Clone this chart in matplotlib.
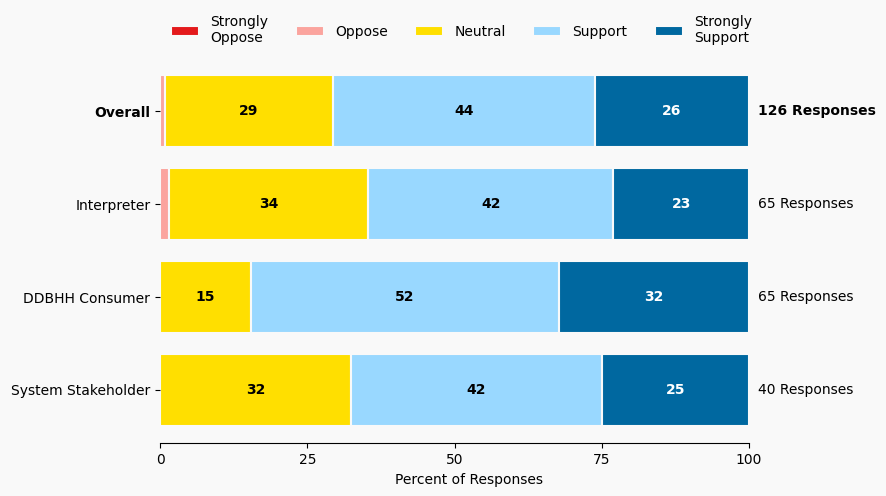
import matplotlib
matplotlib.use('Agg')
from matplotlib import pyplot as plt
import numpy as np

groups = ['Overall', 'Interpreter', 'DDBHH Consumer', 'System Stakeholder']
responses = [126, 65, 65, 40]
levels = ['Strongly\nOppose', 'Oppose', 'Neutral', 'Support', 'Strongly\nSupport']
colors = ['#e41a1c', '#fba49e', '#ffdf00', '#99d8ff', '#0068a0']
text_colors = ['white', 'black', 'black', 'black', 'white']

# percent of responses per group, columns follow levels
strongly_oppose = [0.0, 0.0, 0.0, 0.0]
oppose = [0.79, 1.54, 0.0, 0.0]
neutral = [28.57, 33.85, 15.38, 32.5]
support = [44.44, 41.54, 52.31, 42.5]
strongly_support = [26.19, 23.08, 32.31, 25.0]
data = np.array([strongly_oppose, oppose, neutral, support, strongly_support])

bg = '#f9f9f9'
fig = plt.figure(figsize=(8.86, 4.96), dpi=100, facecolor=bg)
ax = fig.add_axes([0.1806, 0.1069, 0.6648, 0.776], facecolor=bg)

y = np.arange(len(groups))
left = np.zeros(len(groups))
for i in range(len(levels)):
    bars = ax.barh(y, data[i], left=left, height=0.77, color=colors[i],
                   edgecolor=bg, linewidth=1.5, label=levels[i])
    for j, v in enumerate(data[i]):
        if v >= 5:
            ax.text(left[j] + v / 2, y[j], '%d' % round(v), ha='center', va='center',
                    color=text_colors[i], fontsize=10, fontweight='bold')
    left += data[i]

for j, n in enumerate(responses):
    ax.text(101.5, y[j], '%d Responses' % n, ha='left', va='center', fontsize=10,
            fontweight='bold' if j == 0 else 'normal')

ax.set_xlim(0, 100)
ax.set_ylim(len(groups) - 0.43, -0.57)
ax.set_yticks(y)
ax.set_yticklabels(groups, fontsize=10)
ax.get_yticklabels()[0].set_fontweight('bold')
ax.set_xticks([0, 25, 50, 75, 100])
ax.tick_params(labelsize=10)
ax.set_xlabel('Percent of Responses', fontsize=10)
ax.xaxis.set_label_coords(0.525, -0.078)
for s in ['top', 'right', 'left']:
    ax.spines[s].set_visible(False)

fig.legend(loc='upper center', bbox_to_anchor=(0.521, 0.995), ncol=5, frameon=False,
           fontsize=10, handlelength=2.0, handleheight=0.7, columnspacing=2.0,
           handletextpad=0.8, labelspacing=0.2)

fig.savefig('out.png', dpi=100, facecolor=bg)
